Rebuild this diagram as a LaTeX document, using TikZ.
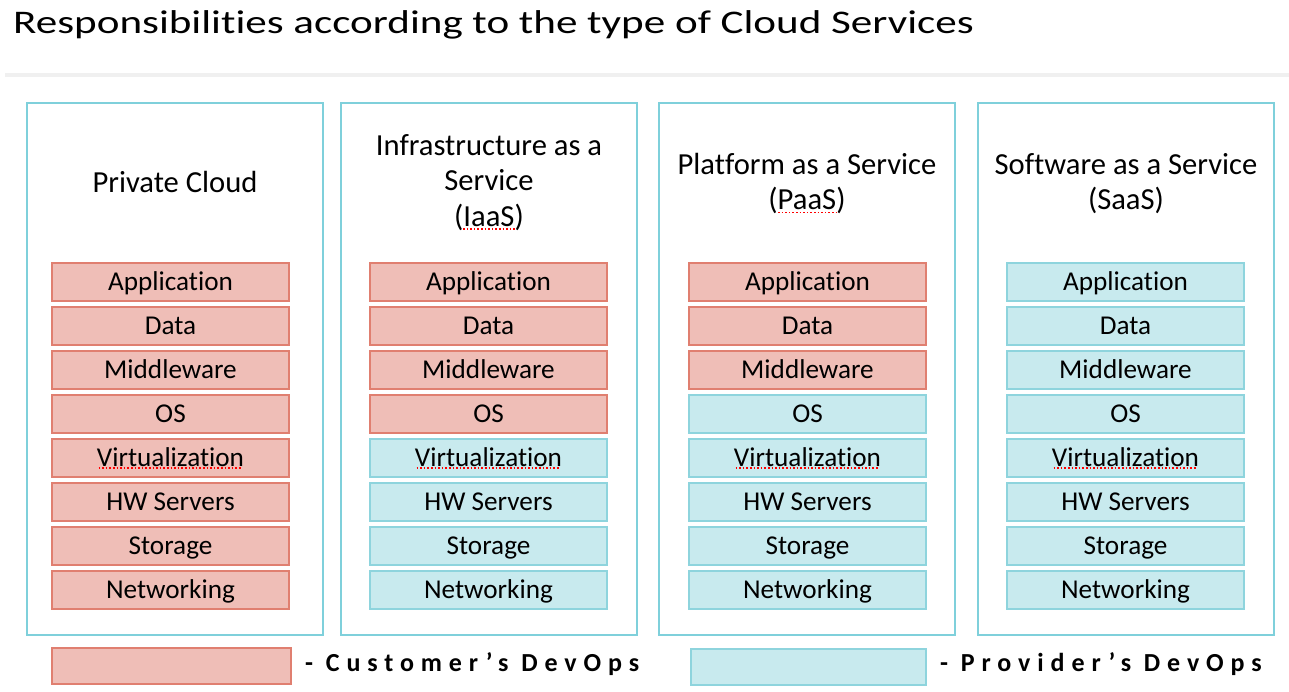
\documentclass[tikz,border=0pt]{standalone}
\usepackage{fontspec}
\setmainfont[Ligatures={NoCommon}]{Carlito}
\definecolor{custfill}{HTML}{EFBEB7}
\definecolor{custdraw}{HTML}{E07F70}
\definecolor{provfill}{HTML}{C8EAEE}
\definecolor{provdraw}{HTML}{8ED4DD}
\definecolor{framecol}{HTML}{7FD0DB}
\definecolor{sepcol}{HTML}{F0F0F0}
\begin{document}
\begin{tikzpicture}[x=1pt,y=-1pt,
  colbox/.style={draw=framecol,line width=2pt,minimum width=296pt,minimum height=532pt,inner sep=0pt},
  layer/.style={minimum width=237pt,minimum height=38pt,inner sep=0pt,line width=1.3pt,
    text height=16pt,text depth=0pt,font=\fontsize{27.2}{30}\selectfont},
  cust/.style={layer,fill=custfill,draw=custdraw},
  prov/.style={layer,fill=provfill,draw=provdraw},
  head/.style={align=center,inner sep=0pt,font=\fontsize{30.6}{35.5}\selectfont},
  legtext/.style={anchor=base west,inner sep=0pt,font=\fontsize{26}{30}\selectfont\bfseries\addfontfeature{LetterSpace=26.5}},
  spell/.style={draw=red,dotted,line width=1.6pt}]
\useasboundingbox[fill=white] (0,0) rectangle (1289,691);
\node[anchor=base west,inner sep=0pt,font=\fontsize{33}{40}\selectfont] (title) at (13,33) {\scalebox{1.306}[1]{Responsibilities according to the type of Cloud Services}};
\fill[sepcol] (5,73) rectangle (1289,77);
% column frames
\node[colbox] (c1) at (175,369) {};
\node[colbox] (c2) at (489,369) {};
\node[colbox] (c3) at (807,369) {};
\node[colbox] (c4) at (1126,369) {};
% headers (anchor base = baseline of last line)
\node[head,anchor=base] (h1) at (175,192) {Private Cloud};
\node[head,anchor=base] (h2) at (489,226) {Infrastructure as a\\Service\\(IaaS)};
\node[head,anchor=base] (h3) at (807,209.5) {Platform as a Service\\(PaaS)};
\node[head,anchor=base] (h4) at (1126,209.5) {Software as a Service\\(SaaS)};
% layers
\foreach \c/\x/\n in {1/170.5/8,2/488.5/4,3/807.5/3,4/1125.5/0}{
  \foreach \t [count=\i] in {Application,Data,Middleware,OS,Virtualization,HW Servers,Storage,Networking}{
    \pgfmathsetmacro{\yy}{282+44*(\i-1)}
    \ifnum\i>\n
      \node[prov] (c\c r\i) at (\x,\yy) {\t};
    \else
      \node[cust] (c\c r\i) at (\x,\yy) {\t};
    \fi
  }
}
% spell-check underlines
\foreach \c in {1,2,3,4}{
  \draw[spell] ([xshift=-72pt,yshift=-10pt]c\c r5.center) -- ([xshift=71pt,yshift=-10pt]c\c r5.center);
}
\draw[spell] (463,229) -- (516,229);
\draw[spell] (778,212.5) -- (837,212.5);
% legend
\node[cust,minimum width=239pt,minimum height=36pt] (lc) at (171.5,666) {};
\node[prov,minimum width=235pt,minimum height=36pt] (lp) at (808.5,667) {};
\node[legtext] (tc) at (305,671) {- Customer’s DevOps};
\node[legtext] (tp) at (940,671) {- Provider’s DevOps};
\end{tikzpicture}
\end{document}
